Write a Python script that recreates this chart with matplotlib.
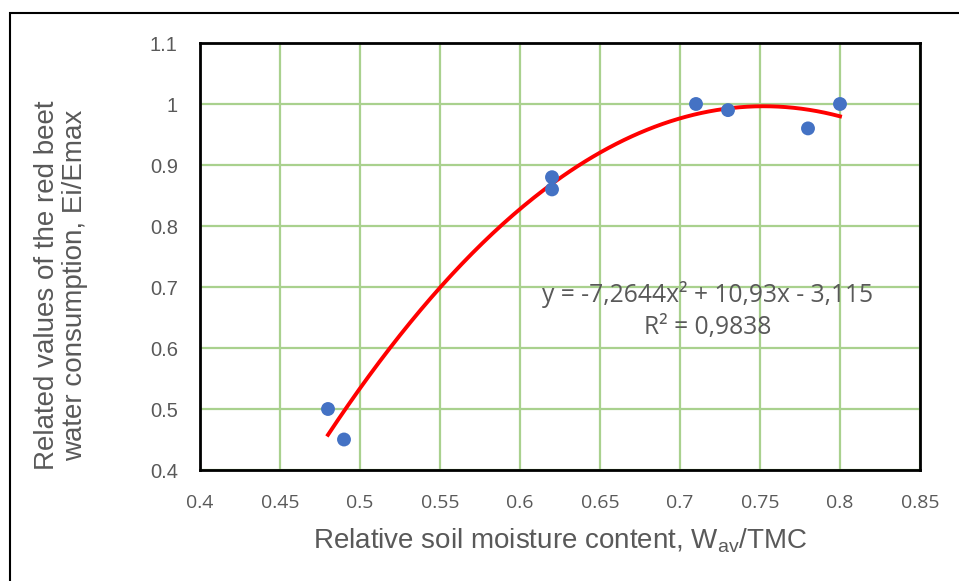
import numpy as np
import matplotlib
matplotlib.use('Agg')
import matplotlib.pyplot as plt
from matplotlib.patches import Rectangle

# data
moisture = [0.48, 0.49, 0.62, 0.62, 0.71, 0.73, 0.78, 0.80]
consumption = [0.50, 0.45, 0.88, 0.86, 1.00, 0.99, 0.96, 1.00]
poly_coefs = [-7.2644, 10.93, -3.115]
x_ticks = [0.4, 0.45, 0.5, 0.55, 0.6, 0.65, 0.7, 0.75, 0.8, 0.85]
x_tick_labels = ['0.4', '0.45', '0.5', '0.55', '0.6', '0.65', '0.7', '0.75', '0.8', '0.85']
y_ticks = [0.4, 0.5, 0.6, 0.7, 0.8, 0.9, 1.0, 1.1]
y_tick_labels = ['0.4', '0.5', '0.6', '0.7', '0.8', '0.9', '1', '1.1']

grey = '#595959'
W, H = 959, 581

plt.rcParams['mathtext.fontset'] = 'custom'
plt.rcParams['mathtext.rm'] = 'Liberation Sans'

fig = plt.figure(figsize=(W / 100, H / 100), dpi=100)

# outer chart border (runs off the right/bottom of the picture)
fig.patches.append(Rectangle((10 / W, -0.1), 1.2, 1 - 13 / H + 0.1,
                             transform=fig.transFigure, fill=False,
                             edgecolor='black', linewidth=1.5))

ax = fig.add_axes([200 / W, 1 - 470 / H, 720 / W, 427 / H])
ax.set_xlim(0.4, 0.85)
ax.set_ylim(0.4, 1.1)
ax.set_xticks(x_ticks)
ax.set_xticklabels(x_tick_labels, family='Open Sans', fontsize=14, color=grey)
ax.set_yticks(y_ticks)
ax.set_yticklabels(y_tick_labels, family='Liberation Sans', fontsize=14.5, color=grey)
ax.tick_params(length=0)
ax.tick_params(axis='x', pad=17)
ax.tick_params(axis='y', pad=16)
ax.grid(True, color='#A9D18E', linewidth=1.6)
ax.set_axisbelow(True)
for s in ax.spines.values():
    s.set_linewidth(2)
    s.set_color('black')

# trend line
xs = np.linspace(min(moisture), max(moisture), 200)
ax.plot(xs, np.polyval(poly_coefs, xs), color='red', linewidth=2.8, zorder=3)
ax.scatter(moisture, consumption, s=100, color='#4472C4', zorder=4, edgecolors='none')

ax.text(0.7175, 0.688, 'y = -7,2644x\u00b2 + 10,93x - 3,115', ha='center', va='center',
        family='Open Sans', fontsize=17.7, color=grey)
ax.text(0.7175, 0.633, 'R\u00b2 = 0,9838', ha='center', va='center',
        family='Open Sans', fontsize=17.7, color=grey)

fig.text(560 / W, 1 - 541 / H, 'Relative soil moisture content, W$_{\\mathrm{av}}$/TMC',
         ha='center', va='center', family='Liberation Sans', fontsize=20, color=grey)
fig.text(61 / W, 1 - 285 / H, 'Related values of the red beet\nwater consumption, Ei/Emax',
         ha='center', va='center', rotation=90, family='Liberation Sans', fontsize=20,
         color=grey, linespacing=1.15)

fig.savefig('out.png', dpi=100)
